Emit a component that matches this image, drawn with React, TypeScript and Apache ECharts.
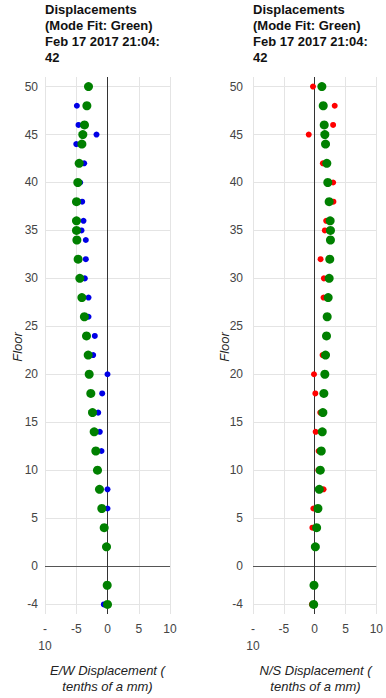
import React, { useEffect, useRef } from "react";
import * as echarts from "echarts";

const floors = [50, 48, 46, 45, 44, 42, 40, 38, 36, 35, 34, 32, 30, 28, 26, 24, 22, 20, 18, 16, 14, 12, 10, 8, 6, 4, 2, -2, -4];
const ewFit = [-3.04, -3.3, -3.68, -3.95, -4.1, -4.53, -4.75, -4.96, -4.96, -4.96, -4.9, -4.7, -4.43, -4.1, -3.7, -3.36, -3.09, -2.93, -2.67, -2.4, -2.13, -1.87, -1.6, -1.28, -0.91, -0.53, -0.16, -0.05, 0.0];
const ewMeasured = [-3.0, -4.9, -4.64, -1.76, -5.0, -3.73, -4.37, -4.05, -3.84, -4.16, -3.47, -3.47, -3.63, -3.04, -3.04, -2.03, -2.29, 0, -0.85, -1.49, -1.23, -0.96, -1.6, 0, 0, -0.5, -0.15, -0.05, -0.59];
const nsFit = [1.17, 1.39, 1.55, 1.65, 1.76, 1.97, 2.13, 2.35, 2.51, 2.56, 2.56, 2.45, 2.35, 2.19, 2.03, 1.92, 1.76, 1.65, 1.49, 1.33, 1.23, 1.07, 0.91, 0.75, 0.53, 0.32, 0.11, -0.11, -0.16];
const nsMeasured = [-0.27, 3.25, 2.99, -0.96, 1.76, 1.33, 2.99, 3.04, 1.87, 1.65, 2.56, 0.96, 1.49, 1.44, 2.0, 1.9, 1.28, -0.11, 0.11, 0.91, 0.16, 0.64, 0.59, 1.44, -0.21, -0.37, 0.1, -0.1, -0.45];
const yTicks = [-4, 0, 5, 10, 15, 20, 25, 30, 35, 40, 45, 50];
const titleLines = ["Displacements", "(Mode Fit: Green)", "Feb 17 2017 21:04:", "42"];
const xTitles = ["E/W Displacement (\ntenths of a mm)", "N/S Displacement (\ntenths of a mm)"];

const FONT = "Arial, 'Liberation Sans', sans-serif";
const GRID_LEFTS = [45, 253];
const GRID_TOP = 77;
const GRID_W = 125;
const GRID_H = 537;

function pairs(xs: number[]) {
  return floors.map((f, i) => [xs[i], f]);
}

export default function App() {
  const ref = useRef<HTMLDivElement>(null);
  useEffect(() => {
    if (!ref.current) return;
    const chart = echarts.init(ref.current, null, { renderer: "svg" });
    const grids = GRID_LEFTS.map((l) => ({ left: l, top: GRID_TOP, width: GRID_W, height: GRID_H }));
    const xAxes = [0, 1].map((g) => ({
      gridIndex: g,
      type: "value",
      min: -10,
      max: 10,
      interval: 5,
      axisLine: { show: false },
      axisTick: { show: false },
      splitLine: { show: true, lineStyle: { color: "#e4e4e4", width: 1 } },
      axisLabel: {
        color: "#444",
        fontSize: 12,
        fontFamily: FONT,
        margin: 6,
        lineHeight: 17,
        formatter: (v: number) => (v === -10 ? "-\n10" : String(v)),
      },
    }));
    const yAxes = [0, 1].map((g) => ({
      gridIndex: g,
      type: "value",
      min: -5,
      max: 51,
      axisLine: { show: false },
      axisTick: { show: false },
      splitLine: { show: false },
      axisLabel: {
        customValues: yTicks,
        color: "#444",
        fontSize: 12,
        fontFamily: FONT,
        margin: g === 0 ? 7 : 10,
      },
    }));
    const gridLineSeries = [0, 1].map((g) => ({
      type: "scatter",
      xAxisIndex: g,
      yAxisIndex: g,
      data: [],
      z: 1,
      silent: true,
      markLine: {
        z: 1,
        silent: true,
        symbol: ["none", "none"],
        label: { show: false },
        lineStyle: { type: "solid", width: 1, color: "#e4e4e4" },
        emphasis: { disabled: true },
        data: [
          ...yTicks.filter((v) => v !== 0).map((v) => ({ yAxis: v })),
          { yAxis: 0, lineStyle: { color: "#555", type: "solid", width: 1 } },
          { xAxis: 0, lineStyle: { color: "#333", type: "solid", width: 1 } },
        ],
      },
    }));
    const pointSeries = [
      { g: 0, data: ewMeasured, color: "#0000e6", size: 6 },
      { g: 0, data: ewFit, color: "#008000", size: 9 },
      { g: 1, data: nsMeasured, color: "#ff0000", size: 6 },
      { g: 1, data: nsFit, color: "#008000", size: 9 },
    ].map((s, i) => ({
      type: "scatter",
      xAxisIndex: s.g,
      yAxisIndex: s.g,
      data: pairs(s.data),
      symbol: "circle",
      symbolSize: s.size,
      itemStyle: { color: s.color, opacity: 1 },
      z: 10 + i,
      emphasis: { disabled: true },
    }));
    const graphic: any[] = [];
    GRID_LEFTS.forEach((l, g) => {
      graphic.push({
        type: "text",
        x: l,
        y: 1,
        style: {
          text: titleLines.join("\n"),
          font: `bold 13px ${FONT}`,
          lineHeight: 16,
          fill: "#111",
          verticalAlign: "top",
        },
      });
      graphic.push({
        type: "text",
        x: l + GRID_W / 2,
        y: 662,
        style: {
          text: xTitles[g],
          font: `italic 13px ${FONT}`,
          lineHeight: 16,
          fill: "#222",
          align: "center",
          verticalAlign: "top",
        },
      });
      graphic.push({
        type: "text",
        x: g === 0 ? 17 : 224,
        y: 347,
        rotation: Math.PI / 2,
        style: {
          text: "Floor",
          font: `italic 13px ${FONT}`,
          fill: "#222",
          align: "center",
          verticalAlign: "middle",
        },
      });
    });
    chart.setOption({
      animation: false,
      backgroundColor: "#ffffff",
      grid: grids,
      xAxis: xAxes,
      yAxis: yAxes,
      series: [...gridLineSeries, ...pointSeries],
      graphic,
    });
    return () => chart.dispose();
  }, []);
  return (
    <div
      ref={ref}
      style={{ position: "absolute", left: 0, top: 0, width: 386, height: 698 }}
    />
  );
}
